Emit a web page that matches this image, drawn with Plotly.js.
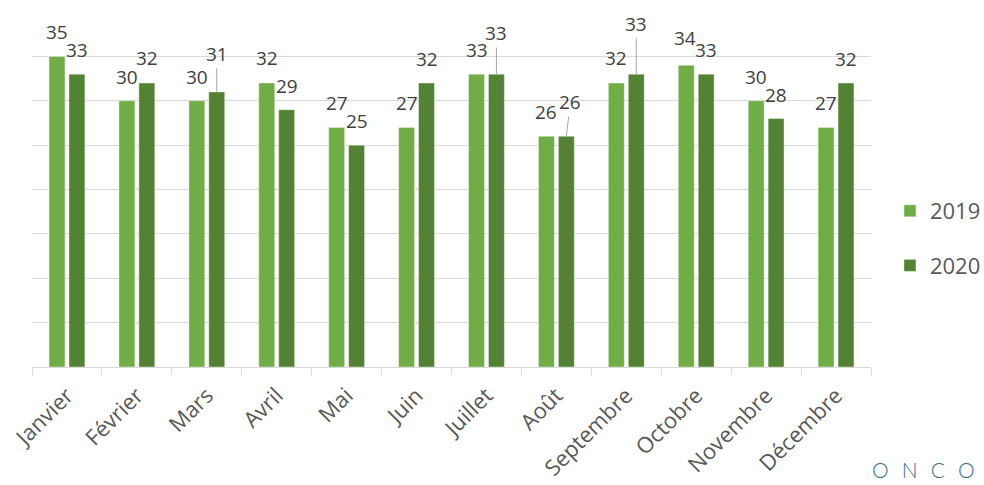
<!DOCTYPE html>
<html>
<head>
<meta charset="utf-8">
<script src="https://cdn.plot.ly/plotly-3.0.1.min.js"></script>
<style>
html,body{margin:0;padding:0;background:#fff;}
#chart{width:984px;height:485px;}
</style>
</head>
<body>
<div id="chart"></div>
<script>
// ---- data ----
const months = ["Janvier","Février","Mars","Avril","Mai","Juin","Juillet","Août","Septembre","Octobre","Novembre","Décembre"];
const seriesNames = ["2019","2020"];
const values2019 = [35,30,30,32,27,27,33,26,32,34,30,27];
const values2020 = [33,32,31,29,25,32,33,26,33,33,28,32];
const brand = "ONCO";

// ---- style ----
const colors = ["#70AD47","#548235"];
const gridColor = "#d9d9d9";
const labelColor = "#404040";
const tickColor = "#595959";
const fontFam = "'Open Sans', 'Noto Sans', sans-serif";
const bargap = 0.43;
const bargroupgap = 0.2;
const defaultLift = 24;
// label placement tweaks (pixels): key = seriesIndex + "-" + monthIndex
const labelTweaks = {
  "1-2": {lift: 38, leader: true},
  "1-6": {lift: 41, leader: true},
  "1-7": {lift: 34, dx: 4, leader: true},
  "1-8": {lift: 50, leader: true},
  "0-9": {lift: 27, dx: -1},
  "1-1": {lift: 25}, "0-3": {lift: 25}, "0-8": {lift: 25}
};

const seriesValues = [values2019, values2020];
const traces = seriesValues.map((vals, s) => ({
  type: "bar",
  name: seriesNames[s],
  x: months.map((m, i) => i),
  y: vals,
  legendgroup: "g" + s,
  marker: {color: colors[s], line: {color: "rgba(255,255,255,0.5)", width: 0.8}},
  hoverinfo: "skip"
}));

// bar centre offset in category units
const groupW = 1 - bargap;
const slot = groupW / seriesValues.length;
const annotations = [];
seriesValues.forEach((vals, s) => {
  const off = -groupW / 2 + slot * (s + 0.5);
  vals.forEach((v, i) => {
    const t = labelTweaks[s + "-" + i] || {};
    const lift = t.lift !== undefined ? t.lift : defaultLift;
    const dx = t.dx || 0;
    const base = {
      x: i + off, y: v, xref: "x", yref: "y",
      text: String(v),
      font: {family: fontFam, size: 19, color: labelColor}
    };
    if (t.leader) {
      annotations.push(Object.assign(base, {
        showarrow: true, arrowhead: 0, arrowwidth: 1, arrowcolor: "#a6a6a6",
        ax: dx, ay: -lift, axref: "pixel", ayref: "pixel", standoff: 0
      }));
    } else {
      annotations.push(Object.assign(base, {
        showarrow: false, yanchor: "middle", xanchor: "center",
        xshift: dx, yshift: lift
      }));
    }
  });
});
annotations.push({
  xref: "paper", yref: "paper", x: 1.063, y: -0.29, xanchor: "center", yanchor: "middle",
  showarrow: false,
  text: brand.split("").join("\u2002\u2009"),
  font: {family: "Lato, 'Open Sans', sans-serif", size: 21, color: "#3b6f8c", weight: 300}
});

const layout = {
  width: 984, height: 485,
  margin: {l: 32, r: 113, t: 12, b: 118, autoexpand: false},
  paper_bgcolor: "#fff", plot_bgcolor: "#fff",
  barmode: "group", bargap: bargap, bargroupgap: bargroupgap,
  showlegend: true,
  legend: {
    x: 1.0226, y: 0.4986, xanchor: "left", yanchor: "top",
    font: {family: fontFam, size: 22, color: tickColor},
    tracegroupgap: 23, bgcolor: "rgba(0,0,0,0)"
  },
  xaxis: {
    type: "linear",
    tickmode: "array",
    tickvals: months.map((m, i) => i),
    ticktext: months,
    range: [-0.5, months.length - 0.5],
    tickangle: -45,
    ticklabelstandoff: 6,
    tickfont: {family: fontFam, size: 22, color: tickColor},
    showline: true, linecolor: gridColor, linewidth: 1,
    ticks: "", showgrid: false, zeroline: false,
    fixedrange: true
  },
  xaxis2: {
    overlaying: "x", anchor: "y",
    range: [-0.5, months.length - 0.5],
    tickmode: "array",
    tickvals: months.map((m, i) => i - 0.5).concat([months.length - 0.5]),
    ticks: "outside", ticklen: 7, tickcolor: gridColor, tickwidth: 1,
    showticklabels: false, showgrid: false, zeroline: false, showline: false,
    side: "bottom"
  },
  yaxis: {
    range: [0, 40], dtick: 5, tick0: 0,
    showticklabels: false, showgrid: true, gridcolor: gridColor, gridwidth: 1,
    zeroline: false, showline: false, ticks: "", fixedrange: true
  },
  annotations: annotations
};

// invisible trace so the boundary tick marks on xaxis2 are drawn
traces.push({type: "scatter", x: [0], y: [0], xaxis: "x2", yaxis: "y", mode: "markers",
  marker: {opacity: 0}, showlegend: false, hoverinfo: "skip"});

Plotly.newPlot("chart", traces, layout, {displayModeBar: false, staticPlot: true});
</script>
</body>
</html>
